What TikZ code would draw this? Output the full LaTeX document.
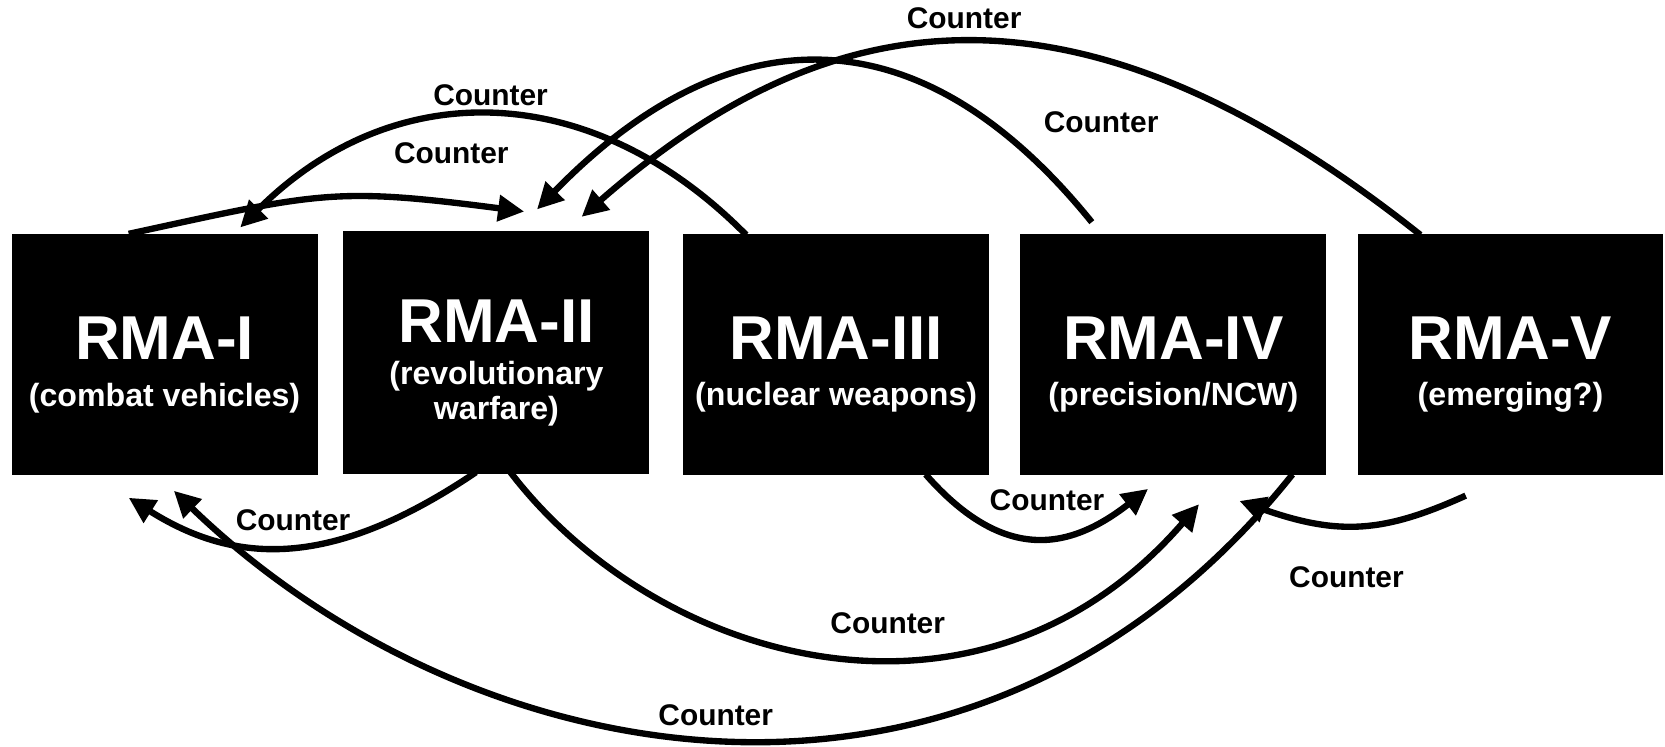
\documentclass[tikz,border=0pt]{standalone}
\usepackage{fontspec}
\setmainfont{Liberation Sans}
\usetikzlibrary{arrows.meta,calc,backgrounds}
\begin{document}
\begin{tikzpicture}[x=0.01cm,y=-0.01cm,
  box/.style={fill=black, inner sep=0pt, minimum width=2.88cm, minimum height=2.27cm},
  ttl/.style={text=white, font=\fontsize{16.6}{19}\selectfont\bfseries, anchor=base, inner sep=0pt},
  sub/.style={text=white, font=\fontsize{8.6}{10}\selectfont\bfseries, anchor=base, inner sep=0pt},
  lbl/.style={font=\fontsize{8}{9.6}\selectfont\bfseries, inner sep=0pt},
  conn/.style={line width=1.7pt, -{Triangle[length=7pt,width=6.8pt]}}]
\useasboundingbox (0,0) rectangle (1568,703);
% boxes
\node[box] (r1) at (155,333.5) {};
\node[box, minimum height=2.28cm] (r2) at (467.5,332) {};
\node[box] (r3) at (787.5,333.5) {};
\node[box] (r4) at (1105,333.5) {};
\node[box] (r5) at (1422.5,333.5) {};
% titles
\node[ttl] (t1) at (155,339) {RMA-I};
\node[ttl] (t2) at (467.5,323) {RMA-II};
\node[ttl] (t3) at (787.5,339) {RMA-III};
\node[ttl] (t4) at (1105,339) {RMA-IV};
\node[ttl] (t5) at (1422.5,339) {RMA-V};
\node[sub] (s1) at (155,383) {(combat vehicles)};
\node[sub] (s2a) at (467.5,362.5) {(revolutionary};
\node[sub] (s2b) at (467.5,395.5) {warfare)};
\node[sub] (s3) at (787.5,382) {(nuclear weapons)};
\node[sub] (s4) at (1105,382) {(precision/NCW)};
\node[sub] (s5) at (1422.5,382) {(emerging?)};
% labels
\node[lbl] (c1) at (908,17) {Counter};
\node[lbl] (c2) at (1037,115) {Counter};
\node[lbl] (c3) at (462,90) {Counter};
\node[lbl] (c4) at (425,144) {Counter};
\node[lbl] (c5) at (276,490) {Counter};
\node[lbl] (c6) at (986,471) {Counter};
\node[lbl] (c7) at (1268,544) {Counter};
\node[lbl] (c8) at (836,587) {Counter};
\node[lbl] (c9) at (674,674) {Counter};
% connectors
\begin{scope}[on background layer]
\draw[conn] ($(r1.north west)+(111,1)$) .. controls +(180,-39) and +(-180,-23.4) .. ($(r2.north west)+(171,-18)$);
\draw[conn] ($(r3.north west)+(60,2)$) .. controls +(-145,-147) and +(145,-145) .. ($(r1.north west)+(216,-5)$);
\draw[conn] ($(r4.north west)+(68,-10)$) .. controls +(-167,-206.7) and +(175,-180) .. ($(r2.north west)+(183,-20)$);
\draw[conn] ($(r5.north west)+(60,2)$) .. controls +(-330,-262) and +(228,-199.4) .. ($(r2.north west)+(225,-13)$);
\draw[conn] ($(r2.south west)+(125.5,-2)$) .. controls +(-136,91.8) and +(100.7,63.4) .. ($(r1.south west)+(111,21)$);
\draw[conn] ($(r4.south west)+(257,-1)$) .. controls +(-300,376) and +(279.4,269.3) .. ($(r1.south west)+(153.5,14.4)$);
\draw[conn] ($(r2.south west)+(158,-2)$) .. controls +(140.2,183) and +(-204.2,235.6) .. ($(r4.south west)+(169,27)$);
\draw[conn] ($(r3.south west)+(229,-1)$) .. controls +(75.5,86) and +(-71.6,55.7) .. ($(r4.south west)+(121,12.6)$);
\draw[conn] ($(r5.south west)+(102.6,19)$) .. controls +(-77.4,35) and +(94,33) .. ($(r4.south west)+(207,24)$);
\end{scope}
\end{tikzpicture}
\end{document}
